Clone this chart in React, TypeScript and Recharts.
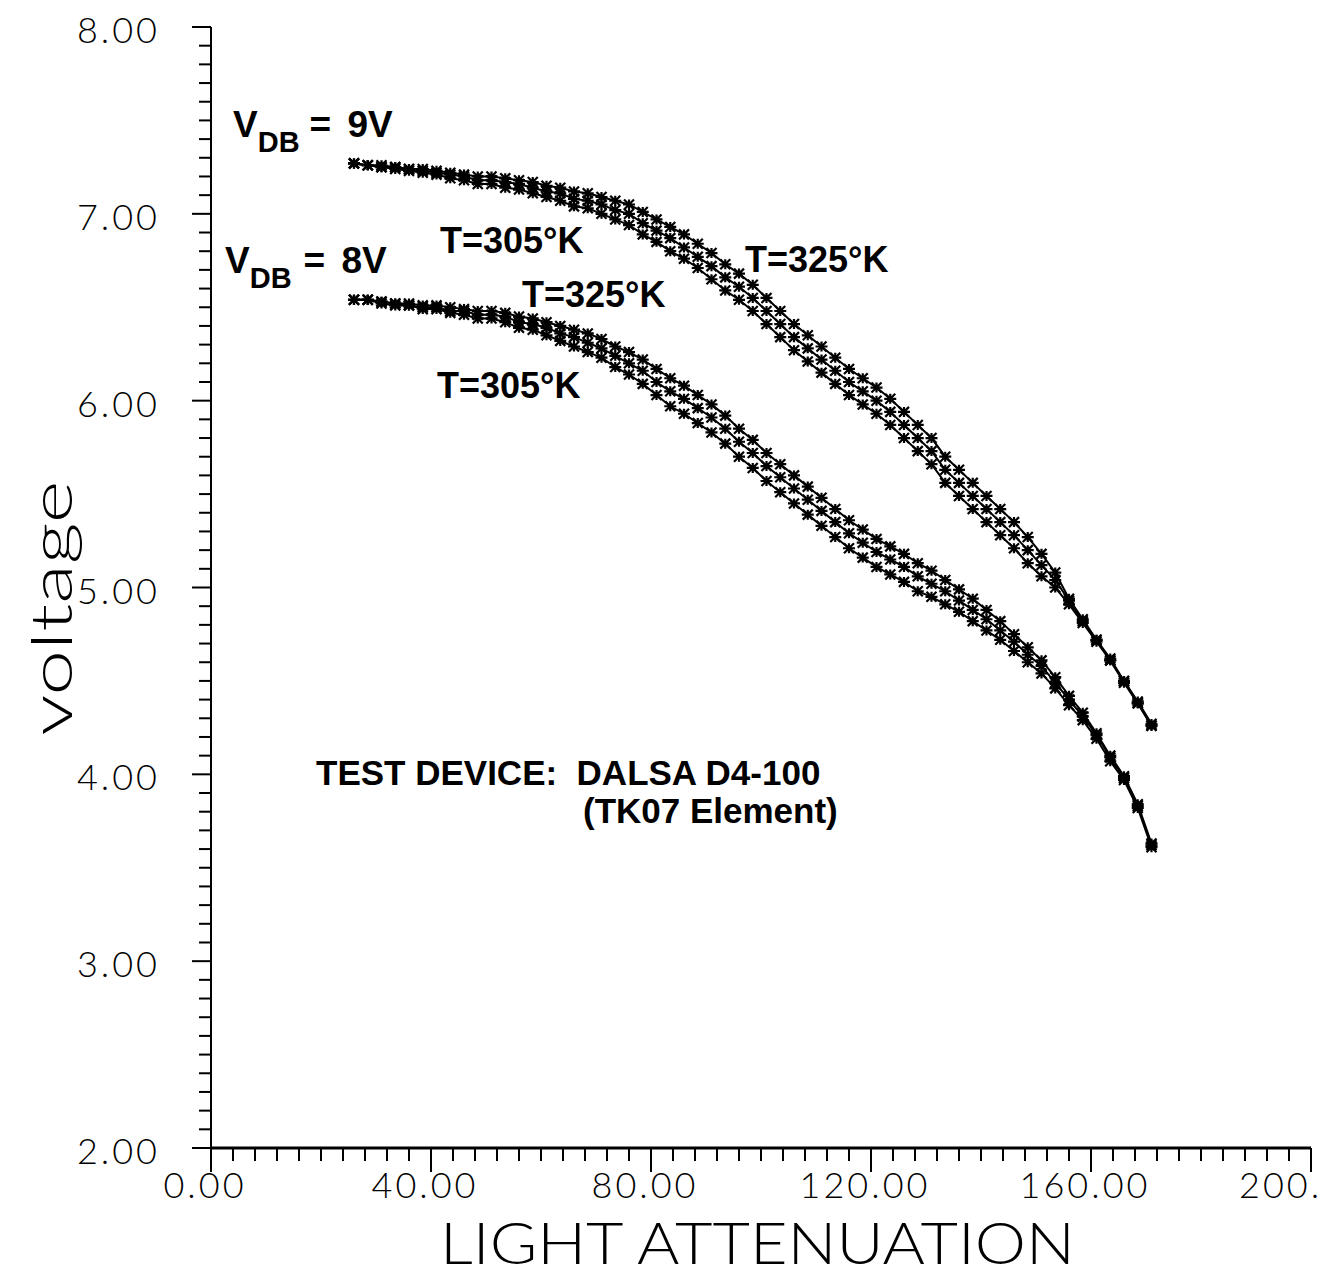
import React from "react";
import { LineChart, Line, XAxis, YAxis } from "recharts";

// light attenuation (x) for every sample
const attenuation = [
  26, 28.5, 31, 33.5, 36, 38.5, 41, 43.5, 46, 48.5,
  51, 53.5, 56, 58.5, 61, 63.5, 66, 68.5, 71, 73.5,
  76, 78.5, 81, 83.5, 86, 88.5, 91, 93.5, 96, 98.5,
  101, 103.5, 106, 108.5, 111, 113.5, 116, 118.5, 121, 123.5,
  126, 128.5, 131, 133.5, 136, 138.5, 141, 143.5, 146, 148.5,
  151, 153.5, 156, 158.5, 161, 163.5, 166, 168.5, 171,
];

// VDB = 9V
const vdb9T325 = [
  7.27, 7.26, 7.26, 7.25, 7.24, 7.24, 7.23, 7.22, 7.21, 7.2,
  7.2, 7.19, 7.18, 7.17, 7.15, 7.14, 7.12, 7.11, 7.09, 7.07,
  7.05, 7.01, 6.97, 6.93, 6.89, 6.84, 6.79, 6.73, 6.68, 6.62,
  6.55, 6.48, 6.41, 6.35, 6.29, 6.23, 6.17, 6.12, 6.07, 6.01,
  5.94, 5.87, 5.8, 5.7, 5.63, 5.56, 5.49, 5.42, 5.35, 5.27,
  5.18, 5.08, 4.94, 4.83, 4.72, 4.62, 4.5, 4.39, 4.27,
];
const vdb9T315 = [
  7.27, 7.26, 7.25, 7.25, 7.24, 7.23, 7.22, 7.21, 7.2, 7.18,
  7.18, 7.17, 7.16, 7.14, 7.12, 7.11, 7.08, 7.07, 7.05, 7.02,
  7.0, 6.95, 6.91, 6.87, 6.82, 6.77, 6.72, 6.66, 6.61, 6.55,
  6.48, 6.41, 6.34, 6.28, 6.22, 6.16, 6.1, 6.05, 6.0, 5.94,
  5.87, 5.8, 5.73, 5.63, 5.56, 5.49, 5.42, 5.35, 5.28, 5.2,
  5.12, 5.04, 4.93, 4.82, 4.72, 4.61, 4.5, 4.38, 4.26,
];
const vdb9T305 = [
  7.27, 7.26, 7.25, 7.24, 7.23, 7.22, 7.21, 7.19, 7.18, 7.16,
  7.16, 7.14, 7.13, 7.11, 7.09, 7.07, 7.04, 7.03, 7.0, 6.97,
  6.94, 6.89, 6.85, 6.8, 6.76, 6.71, 6.65, 6.59, 6.54, 6.48,
  6.41, 6.34, 6.27, 6.21, 6.15, 6.09, 6.03, 5.98, 5.93, 5.87,
  5.8, 5.73, 5.66, 5.56, 5.49, 5.42, 5.35, 5.28, 5.21, 5.13,
  5.06, 5.0, 4.91, 4.81, 4.71, 4.61, 4.49, 4.38, 4.26,
];

// VDB = 8V
const vdb8T325 = [
  6.54, 6.54, 6.53, 6.52, 6.52, 6.51, 6.51, 6.5, 6.49, 6.48,
  6.48, 6.47, 6.45, 6.44, 6.42, 6.4, 6.38, 6.36, 6.33, 6.29,
  6.26, 6.22, 6.17, 6.12, 6.08, 6.03, 5.98, 5.92, 5.85, 5.79,
  5.72, 5.66, 5.6, 5.54, 5.48, 5.42, 5.36, 5.31, 5.26, 5.22,
  5.18, 5.13, 5.09, 5.04, 4.99, 4.94, 4.88, 4.82, 4.75, 4.68,
  4.61, 4.52, 4.42, 4.33, 4.22, 4.1, 3.99, 3.84, 3.63,
];
const vdb8T315 = [
  6.54, 6.54, 6.53, 6.52, 6.51, 6.5, 6.5, 6.48, 6.48, 6.46,
  6.46, 6.45, 6.42, 6.41, 6.39, 6.36, 6.34, 6.31, 6.28, 6.24,
  6.2, 6.16, 6.1, 6.05, 6.01, 5.96, 5.91, 5.85, 5.78, 5.72,
  5.65, 5.59, 5.53, 5.47, 5.41, 5.35, 5.29, 5.24, 5.19, 5.15,
  5.11, 5.06, 5.02, 4.98, 4.93, 4.88, 4.83, 4.77, 4.71, 4.64,
  4.58, 4.49, 4.4, 4.31, 4.21, 4.09, 3.98, 3.83, 3.62,
];
const vdb8T305 = [
  6.54, 6.54, 6.52, 6.51, 6.51, 6.49, 6.49, 6.47, 6.46, 6.44,
  6.44, 6.42, 6.39, 6.38, 6.35, 6.32, 6.29, 6.26, 6.23, 6.18,
  6.14, 6.09, 6.03, 5.97, 5.93, 5.88, 5.83, 5.77, 5.7, 5.64,
  5.57, 5.51, 5.45, 5.39, 5.33, 5.27, 5.21, 5.16, 5.11, 5.07,
  5.03, 4.98, 4.95, 4.91, 4.87, 4.82, 4.77, 4.72, 4.66, 4.6,
  4.54, 4.46, 4.37, 4.29, 4.19, 4.07, 3.97, 3.82, 3.61,
];

const xMajorTicks = [0, 40, 80, 120, 160, 200];
// the last label is cut at the page edge in the original
const xTickLabels = ["0.00", "40.00", "80.00", "120.00", "160.00", "200."];
const yMajorTicks = [2, 3, 4, 5, 6, 7, 8];
const yTickLabels = ["2.00", "3.00", "4.00", "5.00", "6.00", "7.00", "8.00"];

const seriesKeys = ["u325", "u315", "u305", "l325", "l315", "l305"];

const data = attenuation.map((x, i) => ({
  x,
  u325: vdb9T325[i],
  u315: vdb9T315[i],
  u305: vdb9T305[i],
  l325: vdb8T325[i],
  l315: vdb8T315[i],
  l305: vdb8T305[i],
}));

// minor ticks: every 4 on x, every 0.1 on y
const xTicks = Array.from({ length: 51 }, (_, i) => i * 4);
const yTicks = Array.from({ length: 61 }, (_, i) => Math.round(20 + i) / 10);

const thinFont = '"Lato", "DejaVu Sans", sans-serif';
const boldFont = '"Liberation Sans", Arial, sans-serif';

const XTick = (props: any) => {
  const { x, y, payload } = props;
  const idx = xMajorTicks.indexOf(payload.value);
  const major = idx >= 0;
  const last = idx === xMajorTicks.length - 1;
  return (
    <g>
      <line x1={x} x2={x} y1={y} y2={y + (major ? 24 : 13)} stroke="#000" strokeWidth={2} />
      {major && (
        <text
          x={last ? x - 72 : x - 6}
          y={y + 50}
          textAnchor={last ? "start" : "middle"}
          fontFamily={thinFont}
          fontWeight={300}
          fontSize={36}
          letterSpacing={3}
          fill="#000"
        >
          {xTickLabels[idx]}
        </text>
      )}
    </g>
  );
};

const YTick = (props: any) => {
  const { x, y, payload } = props;
  const idx = yMajorTicks.findIndex((t) => Math.abs(t - payload.value) < 1e-6);
  const major = idx >= 0;
  return (
    <g>
      <line x1={x - (major ? 19 : 12)} x2={x} y1={y} y2={y} stroke="#000" strokeWidth={2} />
      {major && (
        <text
          x={x - 51}
          y={y + 16}
          textAnchor="end"
          fontFamily={thinFont}
          fontWeight={300}
          fontSize={36}
          letterSpacing={3}
          fill="#000"
        >
          {yTickLabels[idx]}
        </text>
      )}
    </g>
  );
};

const starDot = (props: any) => {
  const { cx, cy, index, dataKey } = props;
  const r = 5;
  const d = `M${cx - r},${cy - r}L${cx + r},${cy + r}M${cx - r},${cy + r}L${cx + r},${cy - r}M${cx - r - 1},${cy}L${cx + r + 1},${cy}M${cx},${cy - r}L${cx},${cy + r}`;
  return <path key={`${dataKey}-${index}`} d={d} stroke="#000" strokeWidth={2.2} fill="none" />;
};

const labelStyle = {
  fontFamily: boldFont,
  fontWeight: 700,
  fill: "#000",
} as const;

export default function App() {
  return (
    <div style={{ position: "relative", width: 1321, height: 1260, background: "#fff" }}>
      <LineChart
        width={1321}
        height={1260}
        data={data}
        margin={{ top: 19, right: 18, left: 0, bottom: 0 }}
      >
        <XAxis
          type="number"
          dataKey="x"
          domain={[0, 200]}
          ticks={xTicks}
          interval={0}
          height={120}
          tickSize={0}
          tickMargin={0}
          tickLine={false}
          axisLine={{ stroke: "#000", strokeWidth: 3 }}
          tick={(p: any) => <XTick {...p} />}
        />
        <YAxis
          type="number"
          domain={[2, 8]}
          ticks={yTicks}
          interval={0}
          width={203}
          tickSize={0}
          tickMargin={0}
          tickLine={false}
          axisLine={{ stroke: "#000", strokeWidth: 2 }}
          tick={(p: any) => <YTick {...p} />}
        />
        {seriesKeys.map((k) => (
          <Line
            key={k}
            type="linear"
            dataKey={k}
            stroke="#000"
            strokeWidth={2}
            dot={starDot}
            activeDot={false}
            isAnimationActive={false}
          />
        ))}
      </LineChart>
      <svg
        width={1321}
        height={1266}
        style={{ position: "absolute", left: 0, top: 0, pointerEvents: "none", overflow: "visible" }}
      >
        <text {...labelStyle} x={225} y={129} fontSize={37}>
          V<tspan dy={15} fontSize={29}>DB</tspan>
          <tspan dy={-15} dx={10}>= </tspan>
          <tspan dx={6}>9V</tspan>
        </text>
        <text {...labelStyle} x={217} y={265} fontSize={37}>
          V<tspan dy={15} fontSize={29}>DB</tspan>
          <tspan dy={-15} dx={12}>= </tspan>
          <tspan dx={6}>8V</tspan>
        </text>
        <text {...labelStyle} x={432} y={245} fontSize={36}>T=305°K</text>
        <text {...labelStyle} x={737} y={264} fontSize={36}>T=325°K</text>
        <text {...labelStyle} x={514} y={299} fontSize={36}>T=325°K</text>
        <text {...labelStyle} x={429} y={390} fontSize={36}>T=305°K</text>
        <text {...labelStyle} x={308} y={777} fontSize={35} style={{ whiteSpace: "pre" }}>
          TEST DEVICE:  DALSA D4-100
        </text>
        <text {...labelStyle} x={575} y={815} fontSize={35}>(TK07 Element)</text>
        <text
          x={432}
          y={1256}
          fontFamily={thinFont}
          fontWeight={300}
          fontSize={58}
          textLength={635}
          lengthAdjust="spacingAndGlyphs"
          fill="#000"
        >
          LIGHT ATTENUATION
        </text>
        <text
          transform="translate(64,600) rotate(-90)"
          textAnchor="middle"
          fontFamily={thinFont}
          fontWeight={300}
          fontSize={58}
          textLength={255}
          lengthAdjust="spacingAndGlyphs"
          fill="#000"
        >
          voltage
        </text>
      </svg>
    </div>
  );
}
